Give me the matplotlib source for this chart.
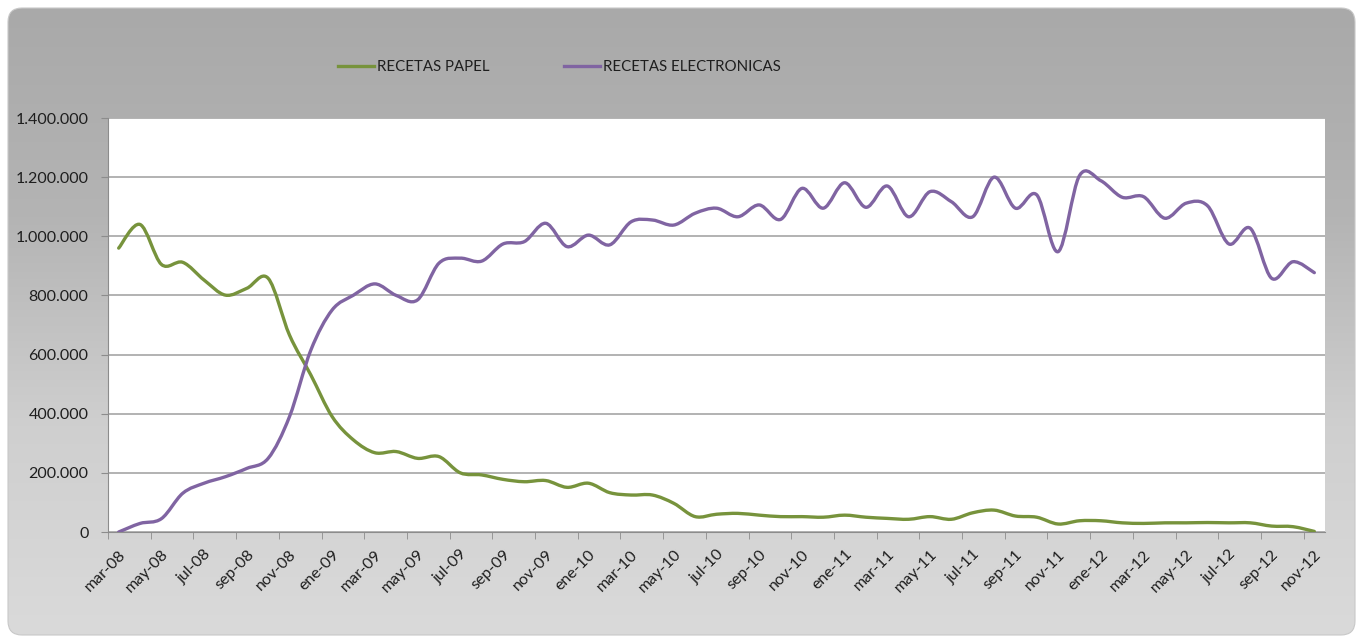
import numpy as np
import matplotlib
matplotlib.use('Agg')
import matplotlib.pyplot as plt
from matplotlib.path import Path
from matplotlib.patches import PathPatch, FancyBboxPatch
from matplotlib.colors import LinearSegmentedColormap
from matplotlib.ticker import FuncFormatter

# months mar-08 .. nov-12
meses = ['ene', 'feb', 'mar', 'abr', 'may', 'jun', 'jul', 'ago', 'sep', 'oct', 'nov', 'dic']
labels = []
for year in range(8, 13):
    for m in range(12):
        if year == 8 and m < 2:
            continue
        if year == 12 and m > 10:
            continue
        labels.append('%s-%02d' % (meses[m], year))

papel = [960000, 1040000, 905000, 912000, 852000, 801000, 824000, 858000, 666000, 531000,
         390000, 311000, 268000, 272000, 249000, 255000, 200000, 193000, 178000, 170000,
         174000, 151000, 165000, 133000, 125000, 125000, 97000, 52000, 60000, 63000,
         57000, 52000, 52000, 50000, 57000, 50000, 46000, 43000, 52000, 43000,
         65000, 74000, 54000, 50000, 27000, 38000, 38000, 31000, 29000, 31000,
         31000, 32000, 31000, 31000, 20000, 18000, 2000]

electronicas = [0, 29000, 45000, 131000, 165000, 187000, 215000, 249000, 390000, 615000,
                751000, 801000, 839000, 800000, 785000, 909000, 926000, 916000, 974000, 982000,
                1044000, 965000, 1004000, 971000, 1049000, 1055000, 1038000, 1078000, 1095000, 1066000,
                1106000, 1057000, 1162000, 1095000, 1181000, 1098000, 1170000, 1066000, 1151000, 1117000,
                1066000, 1200000, 1095000, 1140000, 948000, 1205000, 1188000, 1132000, 1134000, 1061000,
                1112000, 1103000, 974000, 1027000, 858000, 914000, 877000]


def smooth_path(xs, ys):
    # Excel-style smoothed line: cubic bezier segments through the data points
    xs = np.asarray(xs, float)
    ys = np.asarray(ys, float)
    verts = [(xs[0], ys[0])]
    codes = [Path.MOVETO]
    n = len(xs)
    for i in range(n - 1):
        p0 = i - 1 if i > 0 else i
        p3 = i + 2 if i + 2 < n else i + 1
        c1 = (xs[i] + (xs[i + 1] - xs[p0]) / 6.0, ys[i] + (ys[i + 1] - ys[p0]) / 6.0)
        c2 = (xs[i + 1] - (xs[p3] - xs[i]) / 6.0, ys[i + 1] - (ys[p3] - ys[i]) / 6.0)
        verts += [c1, c2, (xs[i + 1], ys[i + 1])]
        codes += [Path.CURVE4] * 3
    return Path(verts, codes)


fig = plt.figure(figsize=(13.57, 6.39), dpi=100)
fig.patch.set_facecolor('white')

# rounded gray gradient panel behind the chart
bg = fig.add_axes([0, 0, 1, 1])
bg.set_xlim(0, 1357)
bg.set_ylim(639, 0)
bg.axis('off')
panel = FancyBboxPatch((8, 8), 1347, 627, boxstyle='round,pad=0,rounding_size=14',
                       facecolor='none', edgecolor='#c8c8c8', linewidth=0.8)
bg.add_patch(panel)
grad = np.linspace(0, 1, 256).reshape(-1, 1)
cmap = LinearSegmentedColormap.from_list('g', ['#a9a9a9', '#b4b4b4', '#cfcfcf', '#dadada'])
img = bg.imshow(grad, extent=[8, 1355, 635, 8], cmap=cmap, aspect='auto', zorder=0)
img.set_clip_path(panel)

ax = fig.add_axes([108 / 1357, 1 - 532 / 639, 1217 / 1357, 414 / 639])
ax.set_facecolor('white')
x = np.arange(len(labels))

green = '#77933c'
purple = '#8064a2'
ax.add_patch(PathPatch(smooth_path(x, papel), fill=False, edgecolor=green, linewidth=2.4,
                       capstyle='round', joinstyle='round', zorder=3))
ax.add_patch(PathPatch(smooth_path(x, electronicas), fill=False, edgecolor=purple, linewidth=2.4,
                       capstyle='round', joinstyle='round', zorder=3))

ax.set_xlim(-0.5, len(labels) - 0.5)
ax.set_ylim(0, 1400000)
ax.set_yticks(np.arange(0, 1400001, 200000))
ax.yaxis.set_major_formatter(FuncFormatter(lambda v, p: '{:,.0f}'.format(v).replace(',', '.')))
ax.grid(axis='y', color='#a6a6a6', linewidth=1.2)
ax.set_axisbelow(True)

ax.set_xticks(x[::2])
ax.set_xticklabels(labels[::2], rotation=45, ha='right', rotation_mode='anchor')
ax.set_xticks(np.arange(-0.5, len(labels), 2), minor=True)
ax.tick_params(axis='x', which='major', length=0, pad=11)
ax.tick_params(axis='x', which='minor', length=5, color='#8c8c8c', direction='out')
ax.tick_params(axis='y', length=5, color='#8c8c8c', pad=9)
for lab in ax.get_xticklabels() + ax.get_yticklabels():
    lab.set_fontfamily(['Lato', 'DejaVu Sans'])
    lab.set_fontsize(11.5)
    lab.set_color('#1e1e1e')

for s in ['top', 'right']:
    ax.spines[s].set_visible(False)
ax.spines['left'].set_color('#8c8c8c')
ax.spines['bottom'].set_color('#8c8c8c')

h1, = ax.plot([], [], color=green, linewidth=2.4, label='RECETAS PAPEL')
h2, = ax.plot([], [], color=purple, linewidth=2.4, label='RECETAS ELECTRONICAS')
leg = fig.legend(handles=[h1, h2], loc='center', bbox_to_anchor=(0.4123, 0.895), ncol=2,
                 frameon=False, handlelength=2.4, handletextpad=0.2, columnspacing=5.0,
                 prop={'family': ['Lato', 'DejaVu Sans'], 'size': 10.8})
for t in leg.get_texts():
    t.set_color('#1e1e1e')

fig.savefig('out.png', dpi=100, facecolor=fig.get_facecolor())
